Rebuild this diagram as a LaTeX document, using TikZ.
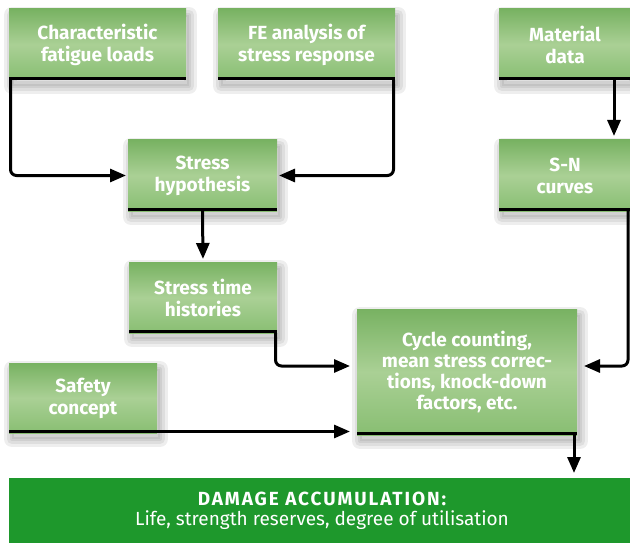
\documentclass[tikz,border=0pt]{standalone}
\usepackage{fontspec}
\setmainfont{Fira Sans}
\usetikzlibrary{arrows.meta,shadows}
\definecolor{gtop}{HTML}{78B262}
\definecolor{gmid}{HTML}{AAD095}
\definecolor{gbot}{HTML}{88BE72}
\definecolor{dmgreen}{HTML}{1E982C}
\tikzset{
  softlayer/.style={general shadow={shadow xshift=3pt,shadow yshift=-6pt,draw=black,line width=#1,opacity=0.065,line join=round}},
  gbox/.style={anchor=north west, inner sep=0pt, outer sep=0pt,
    top color=gtop, bottom color=gbot, middle color=gmid,
    text=white, font=\bfseries\fontsize{19}{22}\selectfont, align=center,
    general shadow={shadow xshift=3pt,shadow yshift=-6pt,fill=black,opacity=0.06},
    softlayer=16pt, softlayer=10pt, softlayer=4pt,
    path picture={\fill[black] ([yshift=3pt]path picture bounding box.south west) rectangle (path picture bounding box.south east);}},
  conn/.style={line width=3pt, -{Triangle[length=16pt,width=13pt]}, rounded corners=6pt},
}
\begin{document}
\begin{tikzpicture}[x=1pt,y=-1pt]
\useasboundingbox (0,0) rectangle (630,543);
\node[gbox, minimum width=177pt, minimum height=71pt] (cfl) at (9,9) {Characteristic\\fatigue loads};
\node[gbox, minimum width=177pt, minimum height=71pt] (fe) at (218,9) {FE analysis of\\stress response};
\node[gbox, minimum width=132pt, minimum height=71pt] (mat) at (499,9) {Material\\data};
\node[gbox, minimum width=149pt, minimum height=71pt] (sh) at (128,140) {Stress\\hypothesis};
\node[gbox, minimum width=132pt, minimum height=71pt] (sn) at (499,140) {S-N\\curves};
\node[gbox, minimum width=148pt, minimum height=71pt] (sth) at (129,262) {Stress time\\histories};
\node[gbox, minimum width=148pt, minimum height=70pt] (safe) at (9,363) {Safety\\concept};
\node[gbox, minimum width=220pt, minimum height=126pt, font=\bfseries\fontsize{19}{21}\selectfont] (cyc) at (357,309) {Cycle counting,\\mean stress correc-\\tions, knock-down\\factors, etc.};
\node[anchor=north west, inner sep=0pt, outer sep=0pt, fill=dmgreen, text=white, align=center,
  font=\fontsize{19}{20}\selectfont, minimum width=626pt, minimum height=65pt] (dmg) at (9,478)
  {{\bfseries\addfontfeature{LetterSpace=10}DAMAGE ACCUMULATION:}\\Life, strength reserves, degree of utilisation};
\coordinate (sa) at ([yshift=1.5pt]safe.south west);
\coordinate (cd) at ([xshift=-3pt]cyc.south east);
\draw[conn, shorten >=2pt] ([xshift=1.5pt]cfl.south west) |- (sh.west);
\draw[conn, shorten >=2pt] ([xshift=-1.5pt]fe.south east) |- (sh.east);
\draw[conn, shorten >=3pt] (sh.south) -- (sth.north);
\draw[conn, shorten >=4pt] ([xshift=-17pt]mat.south east) -- ([xshift=-17pt]sn.north east);
\draw[conn, shorten >=7pt] ([xshift=-3pt]sn.south east) |- ([yshift=6pt]cyc.east);
\draw[conn, shorten >=7pt] ([xshift=-1.5pt]sth.south east) |- ([yshift=6pt]cyc.west);
\draw[conn, shorten >=7pt] (sa) -- (sa -| cyc.west);
\draw[conn, shorten >=5pt] (cd) -- (cd |- dmg.north);
\end{tikzpicture}
\end{document}
